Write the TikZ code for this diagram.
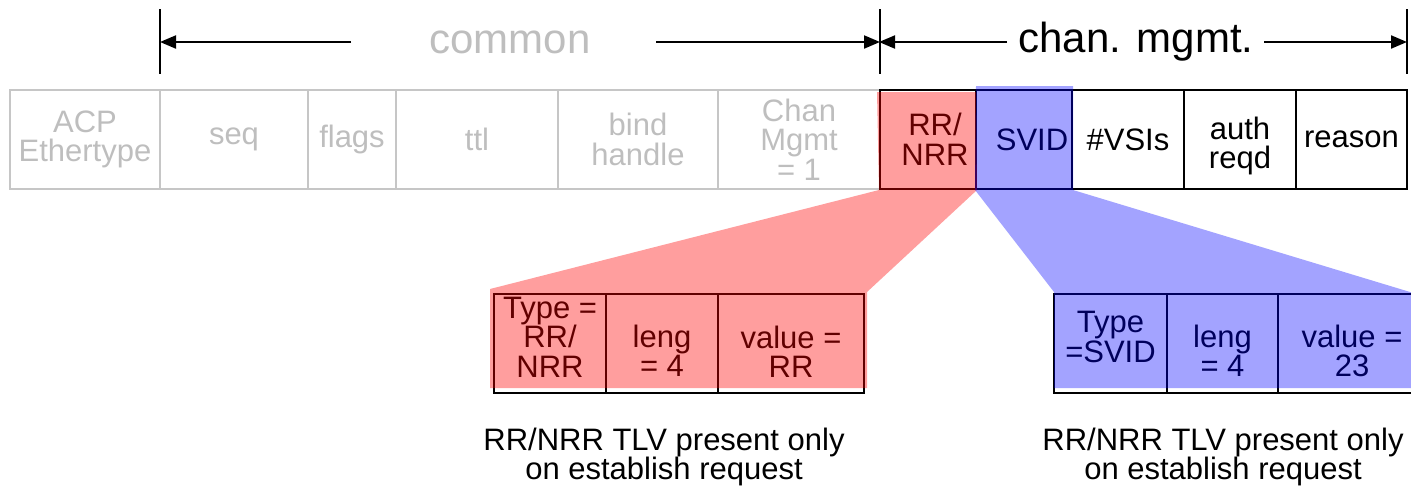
\documentclass[tikz,border=0pt]{standalone}
\usepackage{fontspec}
\setmainfont{Liberation Sans}
\usetikzlibrary{arrows.meta}
\definecolor{lgray}{RGB}{198,198,198}
\definecolor{tgray}{RGB}{190,190,190}
\tikzset{
  fld/.style={draw=black, line width=2pt, inner sep=0pt, minimum height=99pt, align=center,
              font=\fontsize{31}{29.5}\selectfont, anchor=center},
  gfld/.style={fld, draw=lgray, text=tgray},
  sub/.style={fld, minimum height=99pt},
  lbl/.style={fld, draw=none},
  head/.style={font=\fontsize{42}{42}\selectfont, inner sep=0pt},
  tick/.style={line width=2pt},
  arr/.style={line width=2pt, -{Triangle[length=16pt,width=13pt]}},
  note/.style={font=\fontsize{31}{28.5}\selectfont, align=center, inner sep=0pt},
  redfill/.style={fill=red, fill opacity=0.38, draw=none},
  bluefill/.style={fill=blue, fill opacity=0.36, draw=none},
}
\begin{document}
\begin{tikzpicture}[x=1pt,y=-1pt]
\useasboundingbox (0,0) rectangle (1411,488);
\clip (0,0) rectangle (1411,488);
% header ticks and arrows
\coordinate (ta) at (160,9);  \coordinate (tab) at (160,74);
\coordinate (tb) at (880,9);  \coordinate (tbb) at (880,74);
\coordinate (tc) at (1407,9); \coordinate (tcb) at (1407,74);
\draw[tick] (ta) -- (tab);
\draw[tick] (tb) -- (tbb);
\draw[tick] (tc) -- (tcb);
\node[head, text=tgray] (common) at (510,42) {common};
\node[head] (chan) at (1136,42) {chan. mgmt.};
\coordinate (ca) at (160,42); \coordinate (cal) at (351,42);
\coordinate (cbr) at (656,42); \coordinate (cb) at (880,42);
\coordinate (da) at (879,42); \coordinate (dal) at (1007,42);
\coordinate (dbr) at (1264,42); \coordinate (db) at (1407,42);
\draw[arr] (cal) -- (ca);
\draw[arr] (cbr) -- (cb);
\draw[arr] (dal) -- (da);
\draw[arr] (dbr) -- (db);
% gray common fields
\node[gfld, minimum width=150pt] (acp) at (85,139.5) {ACP\\Ethertype};
\node[gfld, minimum width=148pt] (seq) at (234,139.5) {seq};
\node[gfld, minimum width=88pt] (flags) at (352,139.5) {flags};
\node[gfld, minimum width=162pt] (ttl) at (477,139.5) {ttl};
\node[gfld, minimum width=160pt] (bind) at (638,139.5) {bind\\handle};
\node[gfld, minimum width=162pt] (cm) at (799,139.5) {Chan\\Mgmt\\= 1};
% black chan mgmt fields
\node[fld, minimum width=96pt] (rr) at (928,139.5) {};
\node[lbl] (rrt) at (935,139.5) {RR/\\NRR};
\node[fld, minimum width=96pt] (svid) at (1024,139.5) {};
\node[lbl] (svidt) at (1032,139.5) {SVID};
\node[fld, minimum width=112pt] (vsis) at (1128,139.5) {\#VSIs};
\node[fld, minimum width=112pt] (auth) at (1240,139.5) {};
\node[lbl] (autht) at (1240,146) {auth\\reqd};
\node[fld, minimum width=111pt] (reason) at (1351.5,139.5) {reason};
% red TLV
\node[sub, minimum width=112pt] (rtype) at (550,343.5) {};
\node[lbl] (rtypet) at (550,337) {Type =\\RR/\\NRR};
\node[sub, minimum width=112pt] (rleng) at (662,343.5) {};
\node[lbl] (rlengt) at (662,351) {leng\\= 4};
\node[sub, minimum width=146pt] (rval) at (791,343.5) {};
\node[lbl] (rvalt) at (791,352) {value =\\RR};
% blue TLV
\node[sub, minimum width=113pt] (btype) at (1110.5,343.5) {};
\node[lbl] (btypet) at (1110.5,337) {Type\\=SVID};
\node[sub, minimum width=111pt] (bleng) at (1222.5,343.5) {};
\node[lbl] (blengt) at (1222.5,351) {leng\\= 4};
\node[sub, minimum width=148pt] (bval) at (1352,343.5) {};
\node[lbl] (bvalt) at (1352,351) {value =\\23};
% overlays
\fill[redfill] (877,92) -- (976,92) -- (rr.south east) -- (867,292) -- (867,388)
   -- (490,388) -- (490,289) -- (rr.south west) -- cycle;
\fill[bluefill] (976,86) -- (1073,86) -- (svid.south east) -- (1420,295) -- (1420,388)
   -- (1054,388) -- (1054,292) -- (svid.south west) -- cycle;
% notes
\node[note] (n1) at (664,457) {RR/NRR TLV present only\\on establish request};
\node[note] (n2) at (1223,457) {RR/NRR TLV present only\\on establish request};
\end{tikzpicture}
\end{document}
